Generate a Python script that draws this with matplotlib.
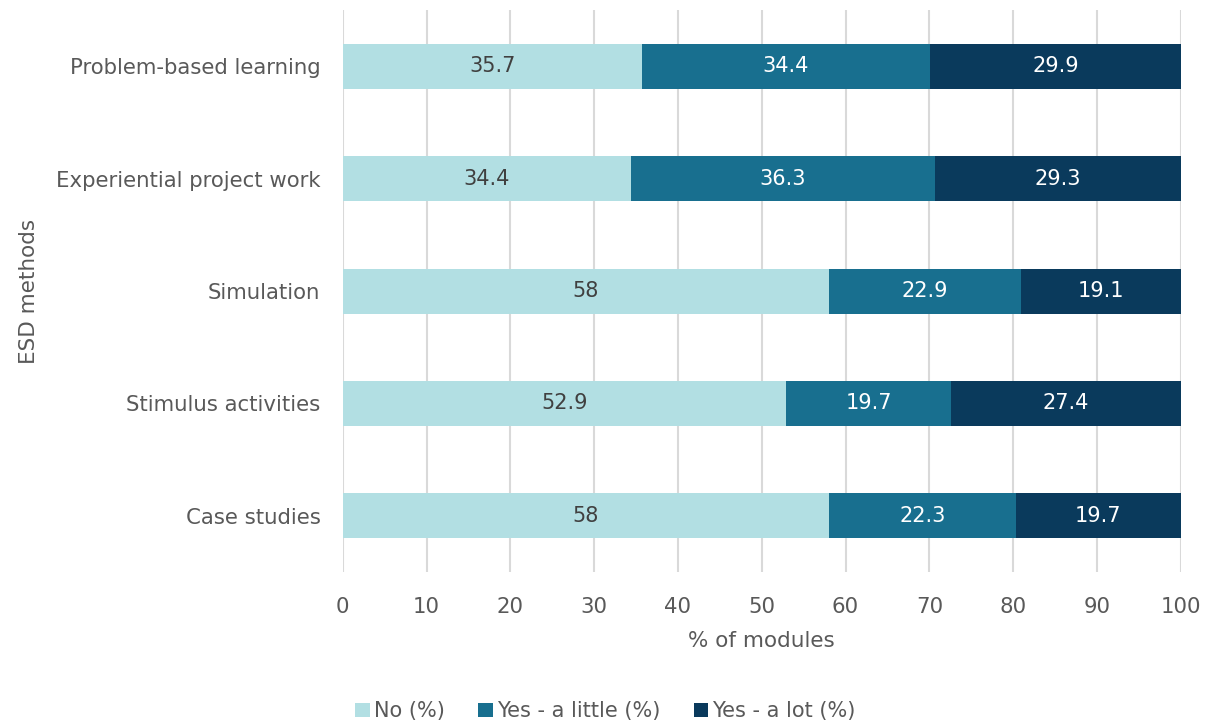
import matplotlib.pyplot as plt
import numpy as np

# Datos del grafico
methods = ['Case studies', 'Stimulus activities', 'Simulation',
           'Experiential project work', 'Problem-based learning']
no_pct = [58, 52.9, 58, 34.4, 35.7]
little_pct = [22.3, 19.7, 22.9, 36.3, 34.4]
lot_pct = [19.7, 27.4, 19.1, 29.3, 29.9]
series_names = ['No (%)', 'Yes - a little (%)', 'Yes - a lot (%)']

colors = ['#B2DFE3', '#186F8F', '#0A3A5C']
label_colors = ['#404040', 'white', 'white']
text_color = '#595959'

plt.rcParams['font.family'] = ['DejaVu Sans']
plt.rcParams['font.size'] = 15

fig = plt.figure(figsize=(12.11, 7.24), dpi=100)
ax = fig.add_axes([0.283, 0.21, 0.692, 0.776])

y = np.arange(len(methods))
left = np.zeros(len(methods))
for vals, name, col, lcol in zip([no_pct, little_pct, lot_pct], series_names, colors, label_colors):
    bars = ax.barh(y, vals, left=left, height=0.4, color=col, label=name)
    ax.bar_label(bars, labels=[f'{v:g}' for v in vals], label_type='center',
                 color=lcol, fontsize=15)
    left += np.array(vals)

ax.set_xlim(0, 100)
ax.set_ylim(-0.5, len(methods) - 0.5)
ax.set_xticks(range(0, 101, 10))
ax.set_yticks(y)
ax.set_yticklabels(methods)
ax.tick_params(axis='both', length=0, colors=text_color, labelsize=15.3)
ax.tick_params(axis='x', pad=18)
ax.tick_params(axis='y', pad=16)
ax.set_axisbelow(True)
ax.grid(True, axis='x', color='#D9D9D9', linewidth=1.5)
for s in ax.spines.values():
    s.set_visible(False)

ax.set_xlabel('% of modules', color=text_color, fontsize=15.5, labelpad=10)
ax.set_ylabel('ESD methods', color=text_color, fontsize=15.5, labelpad=12)

fig.legend(loc='lower center', bbox_to_anchor=(0.5, -0.022), ncol=3, frameon=False,
           fontsize=15, labelcolor=text_color, handlelength=0.7, handleheight=0.7,
           handletextpad=0.2, columnspacing=1.6)

fig.savefig('out.png', dpi=100)
